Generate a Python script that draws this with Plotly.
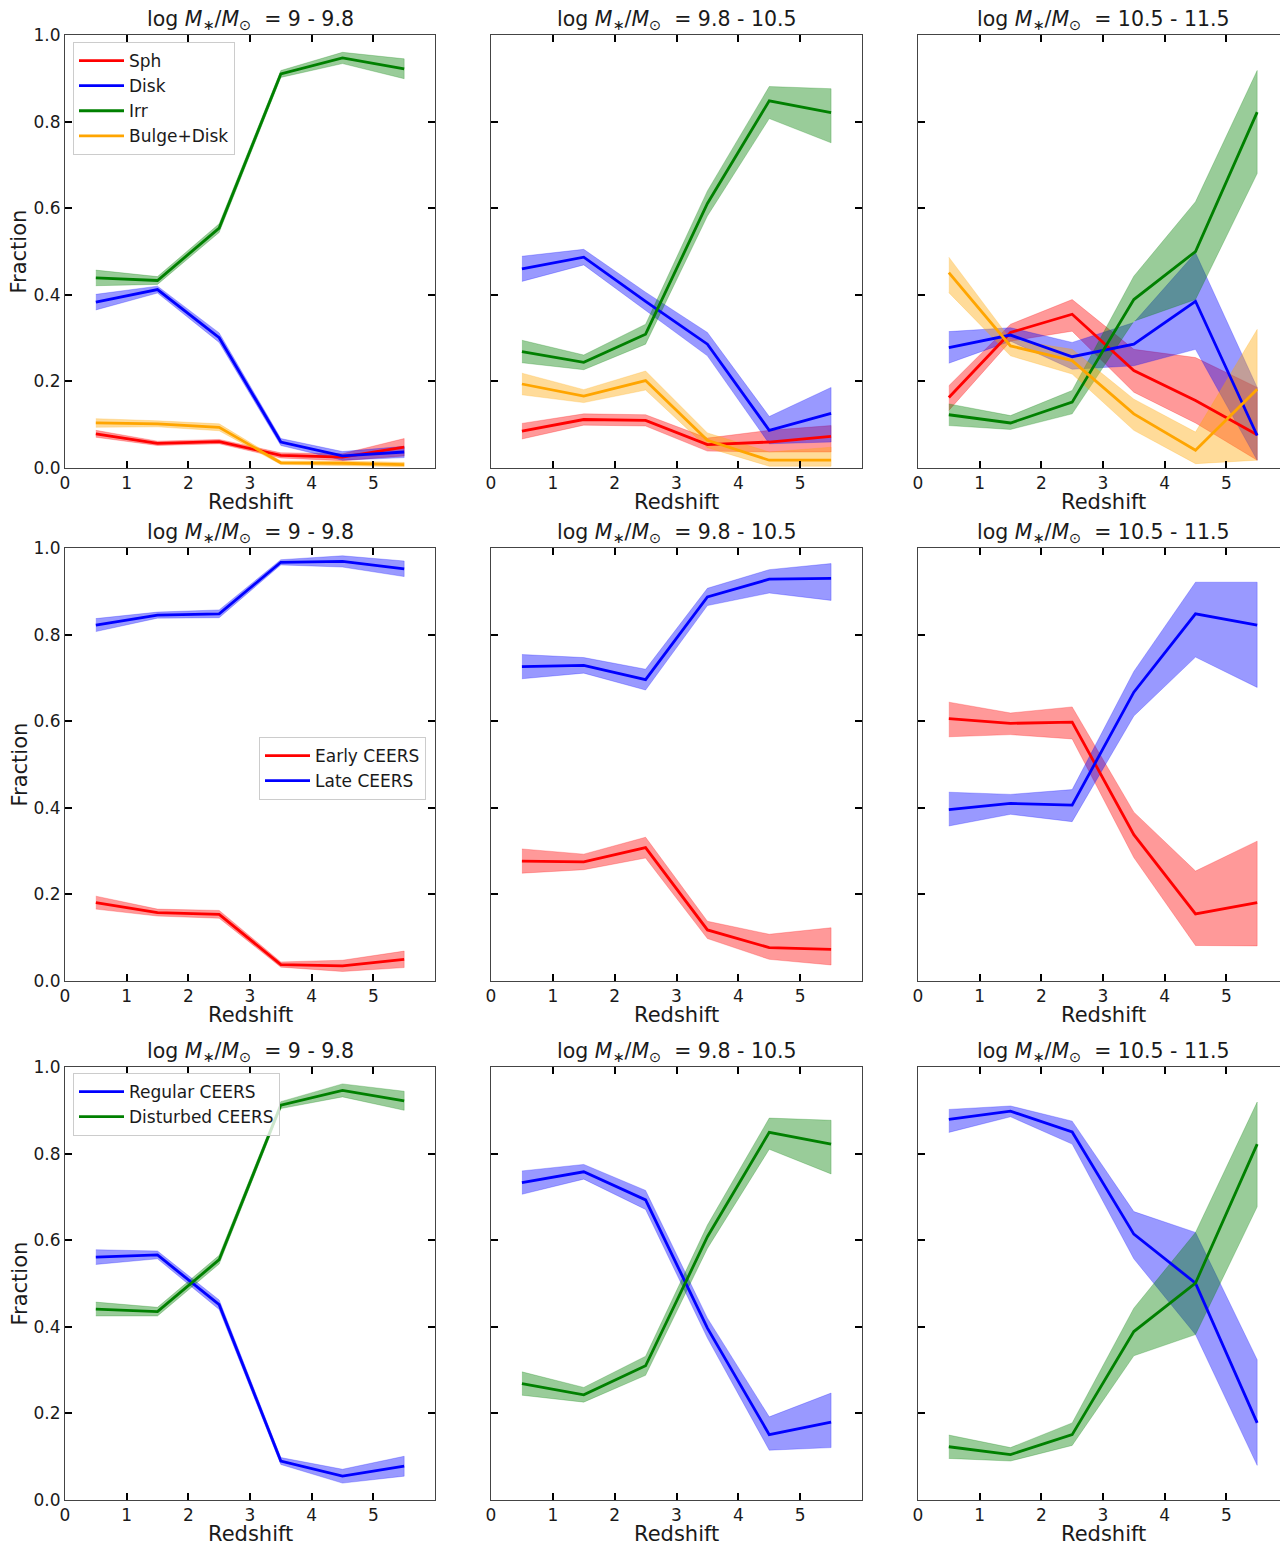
import plotly.graph_objects as go

# ---------------- data ----------------
redshift = [0.5, 1.5, 2.5, 3.5, 4.5, 5.5]
x_ticks = [0, 1, 2, 3, 4, 5]
y_ticks = [0.0, 0.2, 0.4, 0.6, 0.8, 1.0]
y_tick_text = ["0.0", "0.2", "0.4", "0.6", "0.8", "1.0"]
mass_bins = ["9 - 9.8", "9.8 - 10.5", "10.5 - 11.5"]

# Row 1: visual morphology (Sph, Disk, Irr, Bulge+Disk)
m1_sph = [0.079, 0.057, 0.061, 0.029, 0.025, 0.048]
m1_sph_lo = [0.071, 0.052, 0.056, 0.023, 0.017, 0.028]
m1_sph_hi = [0.087, 0.062, 0.066, 0.035, 0.033, 0.068]
m1_disk = [0.383, 0.412, 0.301, 0.060, 0.028, 0.037]
m1_disk_lo = [0.365, 0.404, 0.290, 0.052, 0.018, 0.024]
m1_disk_hi = [0.401, 0.420, 0.312, 0.068, 0.038, 0.050]
m1_irr = [0.439, 0.433, 0.554, 0.910, 0.947, 0.922]
m1_irr_lo = [0.421, 0.424, 0.544, 0.902, 0.934, 0.899]
m1_irr_hi = [0.457, 0.442, 0.564, 0.918, 0.960, 0.945]
m1_bd = [0.104, 0.102, 0.094, 0.012, 0.011, 0.008]
m1_bd_lo = [0.094, 0.095, 0.086, 0.008, 0.006, 0.003]
m1_bd_hi = [0.114, 0.109, 0.102, 0.016, 0.016, 0.013]

m2_sph = [0.085, 0.112, 0.110, 0.054, 0.060, 0.073]
m2_sph_lo = [0.067, 0.099, 0.097, 0.039, 0.037, 0.037]
m2_sph_hi = [0.103, 0.125, 0.123, 0.069, 0.087, 0.098]
m2_disk = [0.460, 0.487, 0.385, 0.286, 0.087, 0.126]
m2_disk_lo = [0.431, 0.469, 0.364, 0.259, 0.056, 0.060]
m2_disk_hi = [0.489, 0.505, 0.406, 0.313, 0.119, 0.186]
m2_irr = [0.269, 0.244, 0.309, 0.611, 0.848, 0.821]
m2_irr_lo = [0.243, 0.227, 0.286, 0.582, 0.807, 0.751]
m2_irr_hi = [0.295, 0.261, 0.332, 0.640, 0.881, 0.876]
m2_bd = [0.194, 0.166, 0.202, 0.064, 0.018, 0.018]
m2_bd_lo = [0.169, 0.151, 0.180, 0.047, 0.004, 0.004]
m2_bd_hi = [0.219, 0.181, 0.224, 0.081, 0.037, 0.048]

m3_sph = [0.163, 0.313, 0.355, 0.225, 0.156, 0.077]
m3_sph_lo = [0.133, 0.293, 0.316, 0.175, 0.104, 0.018]
m3_sph_hi = [0.190, 0.332, 0.389, 0.274, 0.255, 0.186]
m3_disk = [0.278, 0.307, 0.257, 0.286, 0.385, 0.075]
m3_disk_lo = [0.242, 0.293, 0.228, 0.236, 0.274, 0.018]
m3_disk_hi = [0.315, 0.324, 0.290, 0.336, 0.497, 0.186]
m3_irr = [0.123, 0.104, 0.152, 0.389, 0.500, 0.822]
m3_irr_lo = [0.098, 0.089, 0.125, 0.339, 0.389, 0.680]
m3_irr_hi = [0.148, 0.121, 0.179, 0.443, 0.615, 0.918]
m3_bd = [0.451, 0.282, 0.248, 0.125, 0.041, 0.182]
m3_bd_lo = [0.405, 0.259, 0.217, 0.087, 0.010, 0.018]
m3_bd_hi = [0.487, 0.297, 0.274, 0.159, 0.083, 0.320]

# Row 2: Early / Late CEERS
m1_early = [0.181, 0.158, 0.154, 0.038, 0.035, 0.050]
m1_early_lo = [0.166, 0.150, 0.145, 0.032, 0.022, 0.031]
m1_early_hi = [0.196, 0.166, 0.163, 0.044, 0.048, 0.069]
m1_late = [0.822, 0.845, 0.848, 0.967, 0.969, 0.952]
m1_late_lo = [0.807, 0.838, 0.839, 0.961, 0.956, 0.934]
m1_late_hi = [0.837, 0.852, 0.857, 0.973, 0.982, 0.970]
m2_early = [0.277, 0.275, 0.308, 0.118, 0.077, 0.073]
m2_early_lo = [0.249, 0.257, 0.284, 0.098, 0.050, 0.037]
m2_early_hi = [0.305, 0.293, 0.332, 0.138, 0.108, 0.123]
m2_late = [0.726, 0.729, 0.696, 0.887, 0.928, 0.930]
m2_late_lo = [0.698, 0.711, 0.672, 0.867, 0.896, 0.879]
m2_late_hi = [0.754, 0.747, 0.720, 0.907, 0.950, 0.964]
m3_early = [0.606, 0.595, 0.598, 0.338, 0.155, 0.181]
m3_early_lo = [0.564, 0.569, 0.559, 0.285, 0.082, 0.081]
m3_early_hi = [0.644, 0.619, 0.633, 0.390, 0.254, 0.323]
m3_late = [0.396, 0.410, 0.406, 0.667, 0.848, 0.822]
m3_late_lo = [0.358, 0.385, 0.368, 0.612, 0.748, 0.678]
m3_late_hi = [0.436, 0.431, 0.442, 0.715, 0.921, 0.921]

# Row 3: Regular / Disturbed CEERS
m1_regular = [0.561, 0.566, 0.451, 0.090, 0.055, 0.078]
m1_regular_lo = [0.544, 0.557, 0.440, 0.082, 0.039, 0.055]
m1_regular_hi = [0.578, 0.575, 0.462, 0.098, 0.071, 0.101]
m1_disturbed = [0.441, 0.435, 0.555, 0.912, 0.946, 0.922]
m1_disturbed_lo = [0.425, 0.425, 0.545, 0.904, 0.931, 0.900]
m1_disturbed_hi = [0.457, 0.445, 0.565, 0.920, 0.961, 0.944]
m2_regular = [0.733, 0.758, 0.693, 0.397, 0.151, 0.180]
m2_regular_lo = [0.706, 0.741, 0.671, 0.374, 0.115, 0.121]
m2_regular_hi = [0.760, 0.775, 0.715, 0.420, 0.192, 0.247]
m2_disturbed = [0.269, 0.243, 0.310, 0.608, 0.849, 0.822]
m2_disturbed_lo = [0.242, 0.226, 0.288, 0.581, 0.810, 0.753]
m2_disturbed_hi = [0.296, 0.260, 0.332, 0.635, 0.882, 0.877]
m3_regular = [0.879, 0.898, 0.850, 0.614, 0.501, 0.178]
m3_regular_lo = [0.849, 0.885, 0.822, 0.557, 0.382, 0.080]
m3_regular_hi = [0.902, 0.910, 0.875, 0.666, 0.618, 0.324]
m3_disturbed = [0.123, 0.105, 0.151, 0.389, 0.501, 0.822]
m3_disturbed_lo = [0.096, 0.090, 0.126, 0.333, 0.382, 0.677]
m3_disturbed_hi = [0.150, 0.121, 0.178, 0.443, 0.618, 0.919]

# ---------------- styles ----------------
COL = {"red": (255, 0, 0), "blue": (0, 0, 255), "green": (0, 128, 0), "orange": (255, 165, 0)}
FONT = "DejaVu Sans"
TXT = "#1a1a1a"
OFF = 8                      # default page margin of the html body
W, H = 1288 - OFF, 1543

rows_series = [
    [  # row 1
        [("Sph", "red", m1_sph, m1_sph_lo, m1_sph_hi), ("Disk", "blue", m1_disk, m1_disk_lo, m1_disk_hi),
         ("Irr", "green", m1_irr, m1_irr_lo, m1_irr_hi), ("Bulge+Disk", "orange", m1_bd, m1_bd_lo, m1_bd_hi)],
        [("Sph", "red", m2_sph, m2_sph_lo, m2_sph_hi), ("Disk", "blue", m2_disk, m2_disk_lo, m2_disk_hi),
         ("Irr", "green", m2_irr, m2_irr_lo, m2_irr_hi), ("Bulge+Disk", "orange", m2_bd, m2_bd_lo, m2_bd_hi)],
        [("Sph", "red", m3_sph, m3_sph_lo, m3_sph_hi), ("Disk", "blue", m3_disk, m3_disk_lo, m3_disk_hi),
         ("Irr", "green", m3_irr, m3_irr_lo, m3_irr_hi), ("Bulge+Disk", "orange", m3_bd, m3_bd_lo, m3_bd_hi)],
    ],
    [  # row 2
        [("Early CEERS", "red", m1_early, m1_early_lo, m1_early_hi), ("Late CEERS", "blue", m1_late, m1_late_lo, m1_late_hi)],
        [("Early CEERS", "red", m2_early, m2_early_lo, m2_early_hi), ("Late CEERS", "blue", m2_late, m2_late_lo, m2_late_hi)],
        [("Early CEERS", "red", m3_early, m3_early_lo, m3_early_hi), ("Late CEERS", "blue", m3_late, m3_late_lo, m3_late_hi)],
    ],
    [  # row 3
        [("Regular CEERS", "blue", m1_regular, m1_regular_lo, m1_regular_hi), ("Disturbed CEERS", "green", m1_disturbed, m1_disturbed_lo, m1_disturbed_hi)],
        [("Regular CEERS", "blue", m2_regular, m2_regular_lo, m2_regular_hi), ("Disturbed CEERS", "green", m2_disturbed, m2_disturbed_lo, m2_disturbed_hi)],
        [("Regular CEERS", "blue", m3_regular, m3_regular_lo, m3_regular_hi), ("Disturbed CEERS", "green", m3_disturbed, m3_disturbed_lo, m3_disturbed_hi)],
    ],
]

# pixel geometry of the axes boxes (page pixels)
col_px = [(65, 435), (491, 862), (918, 1288)]
row_px = [(35, 468), (548, 981), (1067, 1500)]
legend_names = ["legend", "legend2", "legend3"]


def px_x(p):
    return (p - OFF) / W


def px_y(p):
    return 1 - (p - OFF) / H


fig = go.Figure()
layout = dict(
    width=W, height=H, margin=dict(l=0, r=0, t=0, b=0),
    paper_bgcolor="white", plot_bgcolor="white",
    font=dict(family=FONT, size=17, color=TXT),
    showlegend=True,
)
annotations = []

for r in range(3):
    for c in range(3):
        idx = r * 3 + c + 1
        xa = "x" if idx == 1 else f"x{idx}"
        ya = "y" if idx == 1 else f"y{idx}"
        xkey = "xaxis" if idx == 1 else f"xaxis{idx}"
        ykey = "yaxis" if idx == 1 else f"yaxis{idx}"
        x0, x1 = col_px[c]
        t0, t1 = row_px[r]
        xd = [max(0.0, px_x(x0)), min(1.0, px_x(x1))]
        yd = [px_y(t1), px_y(t0)]
        common = dict(
            showgrid=False, zeroline=False, showline=True, linecolor="#444", linewidth=1,
            mirror="ticks", ticks="inside", ticklen=7, tickwidth=2, tickcolor="black",
            tickfont=dict(family=FONT, size=17, color=TXT), automargin=False,
        )
        layout[xkey] = dict(common, domain=xd, range=[0, 6], tickvals=x_ticks,
                            ticktext=[str(v) for v in x_ticks], anchor=ya)
        ydict = dict(common, domain=yd, range=[0, 1], tickvals=y_ticks, anchor=xa)
        if c == 0:
            ydict["ticktext"] = y_tick_text
        else:
            ydict["showticklabels"] = False
        layout[ykey] = ydict

        series = rows_series[r][c]
        # bands first
        for name, cname, val, lo, hi in series:
            rgb = COL[cname]
            fig.add_trace(go.Scatter(
                x=redshift + redshift[::-1], y=hi + lo[::-1], xaxis=xa, yaxis=ya,
                fill="toself", fillcolor=f"rgba({rgb[0]},{rgb[1]},{rgb[2]},0.4)",
                line=dict(width=0.6, color=f"rgba({rgb[0]},{rgb[1]},{rgb[2]},0.4)"),
                mode="lines", showlegend=False, hoverinfo="skip"))
        for name, cname, val, lo, hi in series:
            rgb = COL[cname]
            fig.add_trace(go.Scatter(
                x=redshift, y=val, xaxis=xa, yaxis=ya, mode="lines", name=name,
                line=dict(width=2.8, color=f"rgb({rgb[0]},{rgb[1]},{rgb[2]})"),
                showlegend=(c == 0), legend=legend_names[r]))

        # panel title
        title = ("log <i>M</i><sub>\u2217</sub>/<i>M</i><sub>\u2299</sub>\u00a0\u00a0=\u00a0" + mass_bins[c])
        cx = (px_x(x0) + px_x(x1)) / 2
        annotations.append(dict(text=title, x=cx, y=yd[1], xref="paper", yref="paper",
                                xanchor="center", yanchor="bottom", yshift=0, showarrow=False,
                                font=dict(family=FONT, size=20.5, color=TXT)))
        # x label
        annotations.append(dict(text="Redshift", x=cx, y=px_y(t1 + 34),
                                xref="paper", yref="paper", xanchor="center", yanchor="middle",
                                showarrow=False, font=dict(family=FONT, size=21, color=TXT)))
    # y label
    annotations.append(dict(text="Fraction", x=px_x(19), y=px_y((row_px[r][0] + row_px[r][1]) / 2),
                            xref="paper", yref="paper", xanchor="center", yanchor="middle",
                            textangle=-90, showarrow=False, font=dict(family=FONT, size=21, color=TXT)))

leg_common = dict(bgcolor="rgba(255,255,255,0.8)", bordercolor="#cccccc", borderwidth=1,
                  font=dict(family=FONT, size=17, color=TXT), xanchor="left", yanchor="top",
                  tracegroupgap=0, itemwidth=45)
layout["legend"] = dict(leg_common, x=px_x(73), y=px_y(42))
layout["legend2"] = dict(leg_common, x=px_x(259), y=px_y(737))
layout["legend3"] = dict(leg_common, x=px_x(73), y=px_y(1073))
layout["annotations"] = annotations

fig.update_layout(**layout)
fig.write_html("out.html")
